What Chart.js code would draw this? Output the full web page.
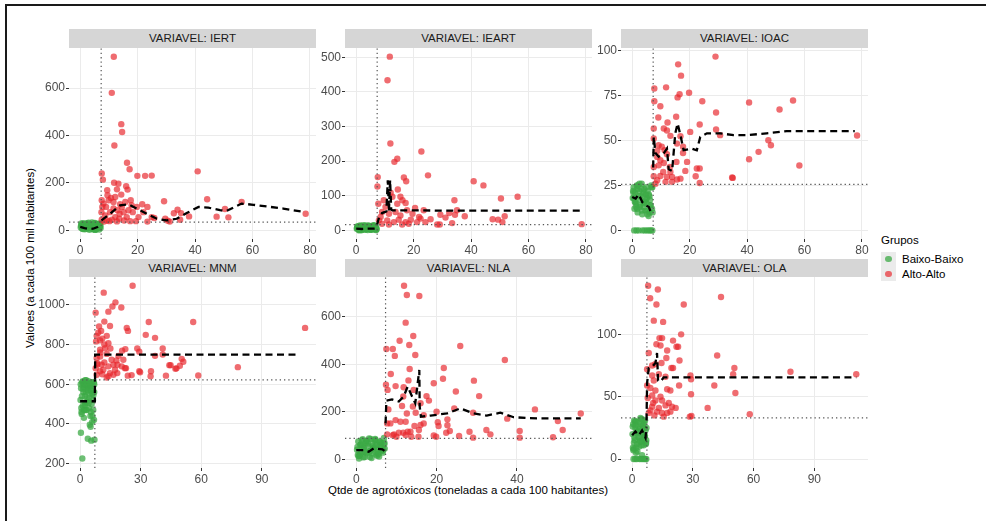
<!DOCTYPE html>
<html lang="pt">
<head>
<meta charset="utf-8">
<title>Agrotóxicos por variável</title>
<script src="https://cdn.jsdelivr.net/npm/chart.js@4.4.1/dist/chart.umd.min.js"></script>
<style>
html,body{margin:0;padding:0;background:#fff;}
body{position:relative;width:986px;height:521px;overflow:hidden;font-family:"Liberation Sans",Arial,Helvetica,sans-serif;}
#frame{position:absolute;left:5px;top:4px;width:990px;height:530px;border-left:2px solid #1a1a1a;border-top:2px solid #1a1a1a;box-sizing:border-box;}
.strip{position:absolute;background:#d6d6d6;color:#1a1a1a;font-size:11.5px;text-align:center;}
.cv{position:absolute;}
#ytitle{position:absolute;left:30px;top:258px;transform:translate(-50%,-50%) rotate(-90deg);white-space:nowrap;font-size:11.5px;color:#000;}
#xtitle{position:absolute;left:468px;top:490px;transform:translate(-50%,-50%);white-space:nowrap;font-size:11.5px;color:#000;}
#legend{position:absolute;left:881px;top:232px;font-size:11.5px;color:#000;}
#legend .ttl{height:16px;line-height:16px;margin-bottom:4px;}
#legend .row{position:relative;height:14.5px;line-height:14.5px;padding-left:21px;white-space:nowrap;}
#legend .key{position:absolute;left:0;top:0;width:15px;height:14.5px;background:#ebebeb;}
#legend .dot{position:absolute;left:4.3px;top:4px;width:6.4px;height:6.4px;border-radius:50%;}
</style>
</head>
<body>
<div id="frame"></div>
<div id="ytitle">Valores (a cada 100 mil habitantes)</div>
<div id="xtitle">Qtde de agrotóxicos (toneladas a cada 100 habitantes)</div>
<div id="legend"></div>
<script>
// ================= DATA =================
const panelNames = ['IERT', 'IEART', 'IOAC', 'MNM', 'NLA', 'OLA'];
const stripPrefix = 'VARIAVEL: ';
const groupTitle = 'Grupos';
const groupLabels = ['Baixo-Baixo', 'Alto-Alto'];
const xThreshold = 7.3;

// x ticks
const row1XTicks = [0, 20, 40, 60, 80];
const MNM_xTicks = [0, 30, 60, 90];
const NLA_xTicks = [0, 20, 40];
const OLA_xTicks = [0, 30, 60, 90];
// y ticks
const IERT_yTicks = [0, 200, 400, 600];
const IEART_yTicks = [0, 100, 200, 300, 400, 500];
const IOAC_yTicks = [0, 25, 50, 75, 100];
const MNM_yTicks = [200, 400, 600, 800, 1000];
const NLA_yTicks = [0, 200, 400, 600];
const OLA_yTicks = [0, 50, 100];

// horizontal thresholds (dotted)
const IERT_yThreshold = 35;
const IEART_yThreshold = 16.5;
const IOAC_yThreshold = 25.6;
const MNM_yThreshold = 622;
const NLA_yThreshold = 88;
const OLA_yThreshold = 33;

// Baixo-Baixo group: x values (shared municipalities)
const greenX = [0.2,0.5,0.8,1.0,1.3,1.6,1.9,2.1,2.4,2.7,3.0,3.2,3.5,3.8,4.0,4.3,4.6,4.9,5.1,5.4,5.7,6.0,6.3,6.6,6.9,7.1,0.4,1.1,1.8,2.6,3.3,4.1,4.8,5.5,6.2,6.8,0.7,1.5,2.3,3.6,4.4,5.2,5.9,6.5,7.0,
                0.3,0.9,1.4,2.0,2.9,3.4,4.2,4.7,5.3,5.8,6.4,7.0,0.6,1.7,2.5,3.9,5.0,6.1];

// ---- IERT ----
const IERT_greenY = [12,25,8,30,18,5,22,14,28,9,20,3,16,27,11,24,6,19,31,13,8,26,17,4,21,10,29,15,7,23,12,33,18,6,27,14,9,22,30,16,5,2,10,28,20,
                     20,6,27,13,32,9,24,15,3,19,11,28,16,25,8,14,30,12];
const IERT_redX = [11.7,11.0,14.3,14.6,11.9,16.3,17.2,7.5,7.9,19.9,22.6,24.9,40.9,11.8,13.3,16.0,16.5,14.3,9.4,12.8,29.2,44.2,56.2,50.4,78.5,47.5,51.6,21.6,23.4,22.0,24.9,25.8,23.4,19.4,17.4,29.6,30.5,31.2,32.6,33.9,35.1,34.8,37.9,10.7,9.9,7.5,8.1,9.0,11.6,13.9,15.7,17.6,16.8,15.1,13.0,10.4,8.7,7.5,9.3,11.0,12.2,13.6,15.3,16.2,18.3,19.7,20.3,8.3,10.2,12.8,14.5,11.6,9.5,12.2,13.7,17.9,7.4,7.7];
const IERT_redY = [732,580,448,415,358,285,258,240,214,230,230,231,249,201,197,186,172,151,169,173,123,131,120,90,70,58,55,110,99,77,56,52,37,39,39,49,41,37,72,87,73,45,59,137,127,127,113,99,120,110,120,127,85,77,85,77,63,45,42,45,56,49,42,56,77,99,56,37,39,38,99,92,148,141,70,106,77,99];
const IERT_meanGreenX = [0, 1.5, 3, 4.5, 6, 7.2];
const IERT_meanGreenY = [15, 10, 6, 7, 14, 25];
const IERT_meanRedX = [7.4,10.4,13.9,16.8,19.7,23.2,26.7,30.1,33.6,37.1,41.2,44.6,48.7,51,53.3,56.2,60.3,64.9,70.7,78.3];
const IERT_meanRedY = [42,70,106,110,92,70,49,42,49,73,99,96,85,82,96,113,108,101,92,77];

// ---- IEART ----
const IEART_greenY = [5,12,2,9,14,6,1,11,4,8,13,3,7,10,1,14,5,9,2,12,6,15,3,8,11,4,10,0,13,6,2,9,12,5,14,1,7,3,11,8,13,4,10,6,2,
                      7,3,12,1,9,14,5,11,2,8,13,6,10,4,15,7,3,12];
const IEART_redX = [11.7,10.9,11.9,22.7,14.3,13.3,25.0,16.6,17.4,7.5,7.4,40.9,44.3,56.2,50.4,34.2,78.5,14.5,12.0,15.4,16.1,12.6,9.6,7.7,10.2,14.3,17.2,20.5,23.5,29.3,31.1,32.4,34.4,35.1,37.8,25.9,28.2,29.1,33.4,51.7,47.5,49.4,50.9,8.5,10.8,13.1,14.8,17.2,19.0,21.2,22.4,9.0,11.4,16.0,19.6,21.9,13.7,11.4,9.0,15.4,17.7,7.9,18.3,24.1];
const IEART_redY = [502,434,251,228,207,198,159,153,142,154,127,142,130,97,92,87,18,118,109,97,87,97,87,77,68,77,79,65,58,45,37,50,45,58,41,32,17,17,21,41,32,31,24,39,29,24,31,24,31,24,34,19,17,17,48,39,53,48,53,43,58,29,19,24];
const IEART_meanGreenX = [0, 2, 4, 6, 7.2];
const IEART_meanGreenY = [5, 4, 5, 5, 6];
const IEART_meanRedX = [7.3,8.0,9.0,10.5,11.0,11.4,11.8,12.2,12.6,14,20,30,50,78.5];
const IEART_meanRedY = [17,40,50,55,145,55,145,60,58,58,58,57,57,57];

// ---- IOAC ----
const IOAC_greenY = [18,24,12,21,15,25,10,19,22,14,17,23,9,20,13,16,11,24,18,22,8,19,14,25,12,10,21,16,23,13,26,15,20,11,17,24,0,0,0,0,0,0,0,0,0,
                     22,16,13,25,19,11,23,17,9,20,14,24,18,12,26,21,15,10];
const IOAC_redX = [29.0,16.0,17.0,7.7,11.8,16.5,15.8,19.8,7.7,9.8,24.4,40.7,56.0,51.3,29.2,9.1,15.3,12.3,23.5,7.5,11.0,12.1,20.2,29.2,30.6,13.3,16.8,47.4,48.3,7.5,15.6,9.2,10.3,17.7,8.7,11.3,12.1,17.7,44.0,40.7,8.7,9.8,11.0,9.2,15.4,19.1,13.1,22.5,23.5,58.2,18.5,7.5,7.5,9.8,12.1,13.9,16.8,22.1,34.8,35.0,8.7,11.6,13.9,23.5,15.6,13.3,10.8,8.1,78.3];
const IOAC_redY = [96.7,92.4,86.1,79.0,79.6,75.8,74.0,76.6,71.9,69.1,71.9,71.2,72.3,67.3,65.6,62.8,63.2,60.0,58.9,56.7,56.7,55.6,54.8,56.1,53.0,52.6,52.4,50.2,47.4,51.1,48.3,47.4,46.5,46.5,44.2,44.6,42.4,43.1,43.7,39.6,40.9,39.0,37.5,36.2,38.1,38.1,35.3,34.4,34.4,36.1,33.1,35.3,30.1,30.3,29.7,29.7,28.8,30.1,29.4,29.2,27.9,27.0,27.0,26.4,28.3,32.5,32.5,26.0,52.8];
const IOAC_meanGreenX = [0, 1.2, 2.3, 3.5, 4.6, 5.8, 6.9];
const IOAC_meanGreenY = [18.6, 17.7, 20, 15.8, 14, 13, 8.4];
const IOAC_meanRedX = [7.3,7.5,8.1,9.2,11,12.1,12.7,13.9,15,15.8,16.8,17.9,20.8,22.5,23.7,26,30.6,35.3,39.9,46.8,53.8,64.2,77.5];
const IOAC_meanRedY = [35,52,43,41,43,45.5,34,33,54,59.5,53,44.6,45.5,44.6,52,54,54,53,53,54,55.2,55.2,55.2];

// ---- MNM ----
const MNM_greenY = [520,580,450,610,490,560,430,600,540,470,620,510,590,325,560,480,530,600,440,570,500,410,590,545,420,320,355,225,585,505,470,615,395,315,555,610,460,575,495,530,605,385,550,470,600,
                    600,540,615,470,560,590,505,580,460,610,520,560,480,600,620,570,590,440];
const MNM_redX = [26.0,11.7,17.5,16.0,20.4,14.0,7.7,34.0,56.0,111.4,12.0,14.8,9.4,23.1,23.7,10.4,8.2,13.2,32.5,37.1,9.9,7.9,14.0,28.3,40.9,22.4,20.8,29.3,9.9,12.4,40.9,37.1,50.3,51.1,44.2,44.8,49.4,47.7,47.2,78.1,22.7,18.5,16.5,8.2,10.7,14.0,15.6,13.2,9.9,29.3,29.7,35.1,34.9,42.5,58.5,23.6,25.5,13.2,16.5,18.4,8.2,9.9,11.5,17.3,20.6,7.7,8.6,14.8,22.2,19.0,21.4,9.0,11.0,12.0,10.0,8.5,12.0,15.0,18.0,11.0,14.0];
const MNM_redY = [1097,1062,1013,992,987,966,961,914,914,884,916,894,891,884,869,869,844,844,849,834,821,816,807,780,780,777,769,764,774,782,750,743,728,713,696,696,693,680,678,686,681,698,698,732,698,690,723,753,740,665,660,665,640,643,644,643,646,634,648,656,648,665,673,673,690,681,706,656,681,743,723,860,830,800,760,700,710,780,720,650,640];
const MNM_meanGreenX = [0, 3.5, 7.3, 7.35];
const MNM_meanGreenY = [514, 514, 514, 622];
const MNM_meanRedX = [7.4, 7.45, 20, 50, 80, 108.3];
const MNM_meanRedY = [622, 749, 749, 749, 749, 749];

// ---- NLA ----
const NLA_greenY = [40,75,15,60,30,85,50,10,70,25,55,88,35,5,65,45,80,20,60,38,12,72,50,28,90,45,18,62,8,78,33,55,82,22,68,42,3,58,30,86,48,15,74,36,64,
                    52,20,80,35,66,10,44,86,28,58,38,70,14,48,76,25,62,40];
const NLA_redX = [11.9,12.6,15.7,12.3,14.2,10.8,13.2,7.5,9.1,25.9,9.6,14.7,37.0,13.3,21.8,8.6,21.6,13.0,29.3,19.3,7.4,9.8,11.8,7.8,17.5,30.6,18.1,24.8,11.7,14.3,16.0,8.0,11.4,14.1,24.4,44.5,55.9,20.0,29.1,12.6,14.8,16.8,37.6,9.8,11.0,12.3,8.5,14.5,16.0,16.8,20.3,22.7,20.5,22.7,50.2,12.8,10.6,9.4,11.7,13.5,15.6,22.4,23.3,32.4,40.7,51.4,7.7,13.7,15.5,19.3,19.9,25.6,28.2,33.4,29.1,40.7,49.0,9.1,10.0,12.3,7.7];
const NLA_redY = [730,691,687,575,519,499,481,464,464,477,435,439,418,380,384,359,339,332,331,320,314,308,303,292,266,266,247,285,264,292,236,210,224,222,214,210,193,200,196,193,196,186,171,165,158,158,151,140,144,151,156,168,140,143,161,116,112,105,112,116,123,112,119,123,119,123,105,95,95,100,95,98,116,105,91,91,93,101,95,102,151];
const NLA_meanGreenX = [0, 1.9, 3.1, 4.4, 6.5, 7.3];
const NLA_meanGreenY = [39, 39, 32, 46, 42, 32];
const NLA_meanRedX = [7.3,7.5,8.9,10.6,11.8,12.8,13.9,14.7,15.7,15.8,16.1,18.5,22.6,25.9,29.2,32.5,35.9,39.2,45,51.6,55.9];
const NLA_meanRedY = [151,247,252,243,264,306,264,236,376,222,179,184,193,214,193,184,196,177,172,172,172];

// ---- OLA ----
const OLA_greenY = [20,28,8,31,15,25,5,22,12,30,18,26,10,24,14,32,21,3,27,16,11,29,19,23,13,25,9,17,30,6,22,33,14,28,18,12,0,0,0,0,0,0,0,0,0,
                    26,13,30,9,22,17,28,11,24,19,31,15,7,27,21,14,32,18];
const OLA_redX = [7.9,12.7,8.9,43.9,12.0,25.5,10.7,15.3,13.5,14.8,20.2,24.2,12.0,14.0,22.7,21.9,8.2,17.3,42.0,16.9,23.4,14.5,11.4,9.9,50.5,19.4,20.2,78.2,7.4,49.9,110.7,28.8,9.9,16.5,29.1,13.2,10.7,7.4,23.2,40.6,9.0,11.5,17.3,18.9,51.0,29.1,9.9,14.0,7.7,11.5,14.8,18.1,10.4,16.5,19.7,21.5,37.3,9.0,12.3,14.8,17.3,18.9,11.0,15.6,28.5,29.3,58.1,8.2,13.2,9.9];
const OLA_redY = [139,136,129,130,124,124,111,110,97,97,95,100,92,91,90,90,85,87,83,81,79,77,76,75,73,73,73,70,72,68,68,67,67,66,64,68,63,59,59,59,57,55,56,55,53,52,51,50,49,47,47,45,45,43,42,41,41,39,38,37,37,38,35,34,34,34.5,36,37,41,42];
const OLA_meanGreenX = [0, 1.6, 3.3, 4.9, 6.6, 7.1];
const OLA_meanGreenY = [19, 22, 19, 23, 17, 26];
const OLA_meanRedX = [7.1,7.4,8.2,9.9,11.5,12.3,12.8,14,15.6,25.5,50,110.7];
const OLA_meanRedY = [31,61,73,74,77,85,63,62,65.5,65.5,65.5,65.5];

// ================= LAYOUT / STYLE =================
const GREEN = 'rgba(60,170,70,0.75)';
const RED = 'rgba(232,38,44,0.68)';
const colLeft = [69, 345, 621];
const rowTop = [48, 277];
const stripTop = [29, 259];
const stripH = [19, 18];
const PW = 247, PH = 191;
const YW = 45, XH = 22, PT = 10, PR = 14;
const FONT = '"Liberation Sans", Arial, Helvetica, sans-serif';

Chart.defaults.font.family = FONT;
Chart.defaults.font.size = 12;

const panels = [
  {name:panelNames[0], col:0, row:0, gy:IERT_greenY, rx:IERT_redX, ry:IERT_redY, mgx:IERT_meanGreenX, mgy:IERT_meanGreenY, mrx:IERT_meanRedX, mry:IERT_meanRedY, thr:IERT_yThreshold, xTicks:row1XTicks, yTicks:IERT_yTicks, xLim:[-3.9,82.1], yLim:[-36.3,769]},
  {name:panelNames[1], col:1, row:0, gy:IEART_greenY, rx:IEART_redX, ry:IEART_redY, mgx:IEART_meanGreenX, mgy:IEART_meanGreenY, mrx:IEART_meanRedX, mry:IEART_meanRedY, thr:IEART_yThreshold, xTicks:row1XTicks, yTicks:IEART_yTicks, xLim:[-3.9,82.1], yLim:[-24.9,527]},
  {name:panelNames[2], col:2, row:0, gy:IOAC_greenY, rx:IOAC_redX, ry:IOAC_redY, mgx:IOAC_meanGreenX, mgy:IOAC_meanGreenY, mrx:IOAC_meanRedX, mry:IOAC_meanRedY, thr:IOAC_yThreshold, xTicks:row1XTicks, yTicks:IOAC_yTicks, xLim:[-3.9,82.1], yLim:[-4.8,101.5]},
  {name:panelNames[3], col:0, row:1, gy:MNM_greenY, rx:MNM_redX, ry:MNM_redY, mgx:MNM_meanGreenX, mgy:MNM_meanGreenY, mrx:MNM_meanRedX, mry:MNM_meanRedY, thr:MNM_yThreshold, xTicks:MNM_xTicks, yTicks:MNM_yTicks, xLim:[-5.5,116.8], yLim:[177,1141]},
  {name:panelNames[4], col:1, row:1, gy:NLA_greenY, rx:NLA_redX, ry:NLA_redY, mgx:NLA_meanGreenX, mgy:NLA_meanGreenY, mrx:NLA_meanRedX, mry:NLA_meanRedY, thr:NLA_yThreshold, xTicks:NLA_xTicks, yTicks:NLA_yTicks, xLim:[-2.8,58.7], yLim:[-36.6,767]},
  {name:panelNames[5], col:2, row:1, gy:OLA_greenY, rx:OLA_redX, ry:OLA_redY, mgx:OLA_meanGreenX, mgy:OLA_meanGreenY, mrx:OLA_meanRedX, mry:OLA_meanRedY, thr:OLA_yThreshold, xTicks:OLA_xTicks, yTicks:OLA_yTicks, xLim:[-5.5,116.5], yLim:[-7.2,146]}
];

function toPts(xs, ys) { return xs.map((x, i) => ({x: x, y: ys[i]})); }

function axis(ticks, lim, isX) {
  return {
    type: 'linear', min: lim[0], max: lim[1],
    afterFit: s => { if (isX) s.height = XH; else s.width = YW; },
    afterBuildTicks: s => { s.ticks = ticks.map(v => ({value: v})); },
    grid: {color: '#ebebeb', lineWidth: 1, drawTicks: true, tickLength: 3, tickColor: '#333333', tickWidth: 1},
    border: {display: false},
    ticks: {color: '#4d4d4d', padding: 1, autoSkip: false, maxRotation: 0, font: {size: 12, family: FONT},
            callback: v => String(v)}
  };
}

panels.forEach(p => {
  const left = colLeft[p.col], top = rowTop[p.row];
  const strip = document.createElement('div');
  strip.className = 'strip';
  strip.style.left = left + 'px';
  strip.style.top = stripTop[p.row] + 'px';
  strip.style.width = PW + 'px';
  strip.style.height = stripH[p.row] + 'px';
  strip.style.lineHeight = stripH[p.row] + 'px';
  strip.textContent = stripPrefix + p.name;
  document.body.appendChild(strip);

  const cv = document.createElement('canvas');
  cv.className = 'cv';
  cv.width = YW + PW + PR;
  cv.height = PT + PH + XH;
  cv.style.left = (left - YW) + 'px';
  cv.style.top = (top - PT) + 'px';
  document.body.appendChild(cv);

  new Chart(cv, {
    type: 'scatter',
    data: {
      datasets: [
        {label: 'mg', data: toPts(p.mgx, p.mgy), showLine: true, borderColor: '#000', borderWidth: 2.3, borderDash: [7, 4.5], pointRadius: 0, tension: 0, order: 0},
        {label: 'mr', data: toPts(p.mrx, p.mry), showLine: true, borderColor: '#000', borderWidth: 2.3, borderDash: [7, 4.5], pointRadius: 0, tension: 0, order: 0},
        {label: 'vthr', data: [{x: xThreshold, y: p.yLim[0]}, {x: xThreshold, y: p.yLim[1]}], showLine: true, borderColor: '#555', borderWidth: 1.2, borderDash: [1.3, 3], pointRadius: 0, order: 1},
        {label: 'hthr', data: [{x: p.xLim[0], y: p.thr}, {x: p.xLim[1], y: p.thr}], showLine: true, borderColor: '#555', borderWidth: 1.2, borderDash: [1.3, 3], pointRadius: 0, order: 1},
        {label: groupLabels[1], data: toPts(p.rx, p.ry), pointRadius: 3.2, pointBackgroundColor: RED, pointBorderWidth: 0, order: 2},
        {label: groupLabels[0], data: toPts(greenX, p.gy), pointRadius: 3.2, pointBackgroundColor: GREEN, pointBorderWidth: 0, order: 3}
      ]
    },
    options: {
      responsive: false, animation: false, devicePixelRatio: 1,
      layout: {padding: {top: PT, right: PR, bottom: 0, left: 0}},
      plugins: {legend: {display: false}, tooltip: {enabled: false}},
      scales: {x: axis(p.xTicks, p.xLim, true), y: axis(p.yTicks, p.yLim, false)}
    }
  });
});

// legend
const lg = document.getElementById('legend');
const t = document.createElement('div'); t.className = 'ttl'; t.textContent = groupTitle; lg.appendChild(t);
[GREEN, RED].forEach((c, i) => {
  const r = document.createElement('div'); r.className = 'row';
  const k = document.createElement('span'); k.className = 'key';
  const d = document.createElement('span'); d.className = 'dot'; d.style.background = c;
  k.appendChild(d); r.appendChild(k);
  r.appendChild(document.createTextNode(groupLabels[i]));
  lg.appendChild(r);
});
</script>
</body>
</html>
